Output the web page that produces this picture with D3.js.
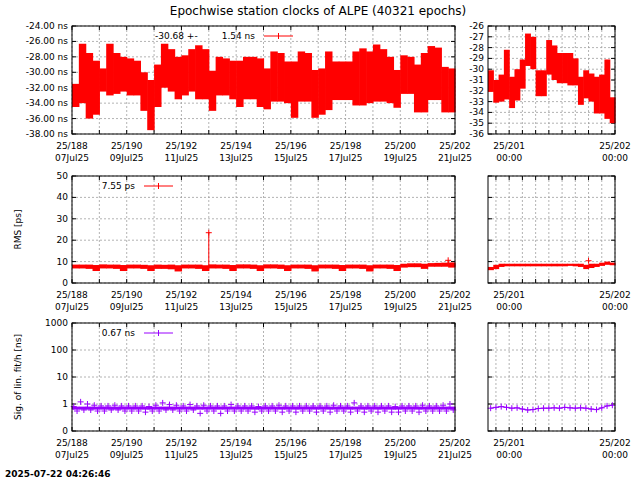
<!DOCTYPE html>
<html><head><meta charset="utf-8">
<script src="https://cdn.jsdelivr.net/npm/d3@7"></script>
<style>body{margin:0;background:#fff}text{font-family:"DejaVu Sans",sans-serif;font-size:9px;fill:#000}</style>
</head><body><svg id="c" width="640" height="480"></svg>
<script>
// ---- data ----
const title = "Epochwise station clocks of ALPE (40321 epochs)";
const stamp = "2025-07-22 04:26:46";
const leftDays = [188,190,192,194,196,198,200,202];
const leftDates = ["07Jul25","09Jul25","11Jul25","13Jul25","15Jul25","17Jul25","19Jul25","21Jul25"];
const rightDays = [201,202];
// clock band, quarter-day bins from day 188.0 (ns)
const clkHi = [-31.5,-26.3,-27.5,-28.5,-29.5,-26.3,-27.5,-28,-28.2,-28.5,-30,-31,-29,-26.3,-27,-28,-27.8,-27,-26.5,-27,-29.8,-28,-28.2,-28.5,-28.5,-28,-28,-28.2,-29.5,-27.3,-27.5,-28.6,-28.6,-27.3,-27.5,-29.7,-29.5,-27.3,-28.6,-28.6,-28.6,-27.3,-26.9,-27.3,-26.4,-27,-28,-29.7,-27.8,-28,-29,-27.5,-26.6,-26.8,-29.3,-29.5];
const clkLo = [-34.5,-34,-36,-35.5,-32.5,-33,-32.8,-32.5,-33,-33,-35,-37.5,-34.5,-32,-32.5,-33.5,-33,-32.5,-33.5,-33.5,-35,-33,-33,-33.5,-34.5,-33.5,-33.5,-34.5,-34.8,-33.8,-33.8,-34,-35.9,-33.8,-33.8,-35.9,-35.5,-34.9,-33.6,-33.6,-33.6,-34.3,-34.3,-34,-33.8,-33.8,-34,-34.6,-32.8,-32.8,-35.2,-35.2,-33.6,-33.6,-35.2,-35.2];
// right panel, 0.05-day bins from day 200.8
const clkHiR = [-30.1,-31,-30.5,-28.2,-30.7,-30,-29.1,-26.7,-27,-30.1,-30.1,-27.3,-27.8,-28.5,-28.5,-28.5,-29,-30.7,-30.1,-30.4,-30.7,-30.5,-29.1,-32.6];
const clkLoR = [-32.1,-33.1,-33,-32.8,-33.6,-32.9,-31.8,-29.7,-30,-32.5,-32.5,-30.5,-31,-31.3,-31.3,-31.5,-31.5,-33.3,-32.7,-33,-34.1,-34.1,-34.6,-35];
// RMS [ps]
const rmsHi = [8.6,8.6,8.6,8.4,8.7,8.6,8.6,8.4,8.6,8.6,8.5,8.3,8.6,8.5,8.6,8.3,8.6,8.6,8.6,8.3,8.7,8.6,8.6,8.4,8.7,8.7,8.6,8.3,8.7,8.7,8.6,8.3,8.6,8.6,8.6,8.3,8.6,8.6,8.6,8.4,8.6,8.6,8.6,8.3,8.6,8.6,8.6,8.4,9.0,9.2,9.2,9.0,9.3,9.4,9.5,9.6];
const rmsLo = [6.8,6.8,6.6,5.6,6.8,6.8,6.6,5.6,6.8,6.8,6.6,5.6,6.6,6.6,6.4,5.4,6.8,6.8,6.6,5.6,6.8,6.8,6.6,5.6,6.8,6.8,6.6,5.6,6.8,6.8,6.6,5.6,6.8,6.8,6.6,5.4,6.8,6.8,6.6,5.6,6.8,6.8,6.6,5.4,6.8,6.8,6.6,5.6,7.2,7.4,7.4,6.6,7.6,7.6,7.6,7.2];
const rmsHiR = [7.5,8.5,9,9,9,9,9,9,9,9,9,9,9,9,9,9,9,9,8.5,9,9,9.5,10,9.5];
const rmsLoR = [6,6.5,7.5,7.8,7.8,7.8,7.8,7.8,7.8,7.8,7.8,7.8,7.8,7.8,7.8,8,7.8,7.5,6.5,7,7.5,8,8.5,8.3];
const rmsSpikes = [[193.0,23.5],[201.75,10.6]];
const rmsSpikesR = [[201.75,10.4]];
// sigma of lin. fit/h [ns]
const sigHi = [0.8,1.2,1.0,0.9,0.85,0.85,0.9,0.85,0.85,0.85,0.85,0.8,0.9,1.1,0.95,0.9,0.85,0.95,0.85,0.9,0.85,0.85,0.85,0.95,0.85,0.85,0.85,0.8,0.85,0.85,0.9,0.85,0.85,0.85,0.85,0.85,0.85,0.85,0.9,0.85,0.85,1.1,0.85,0.85,0.85,0.85,0.85,0.8,0.85,0.85,0.85,0.9,0.85,0.85,0.9,1.0];
const sigLo = [0.55,0.6,0.6,0.55,0.55,0.6,0.6,0.55,0.55,0.55,0.5,0.55,0.55,0.6,0.6,0.55,0.55,0.6,0.45,0.55,0.55,0.45,0.55,0.55,0.55,0.55,0.5,0.55,0.55,0.55,0.5,0.55,0.5,0.55,0.55,0.5,0.55,0.5,0.55,0.55,0.5,0.55,0.5,0.55,0.5,0.55,0.5,0.5,0.55,0.55,0.5,0.55,0.55,0.55,0.55,0.6];
const sigR = [0.7,0.75,0.8,0.75,0.7,0.72,0.65,0.6,0.62,0.68,0.7,0.7,0.72,0.7,0.75,0.72,0.7,0.72,0.7,0.65,0.62,0.72,0.85,0.9];
const legends = [["-30.68 +-","1.54 ns"],["","7.55 ps"],["","0.67 ns"]];

// ---- drawing ----
const svg = d3.select("#c");
const RED = "#ff0000", PUR = "#9900ff";
svg.append("text").attr("x",318).attr("y",15).attr("text-anchor","middle").style("font-size","12px").text(title);
svg.append("text").attr("x",5).attr("y",477).style("font-weight","bold").text(stamp);

const L = [72,455], R = [488,615];
const rows = [[26,134],[176,283],[323,431]];
const xL = d3.scaleLinear().domain([188,202]).range(L);
const xR = d3.scaleLinear().domain([200.8,202]).range(R);

function frame(x, y, yTicks, yFmt, xGrid, xLabels){
  const [x0,x1]=x.range(), [y1,y0]=y.range();
  const g = svg.append("g");
  xGrid.forEach(v=>g.append("line").attr("x1",x(v)).attr("x2",x(v)).attr("y1",y0).attr("y2",y1).attr("stroke","#a0a0a0").attr("stroke-width",0.8).attr("stroke-dasharray","2,2"));
  yTicks.forEach(v=>g.append("line").attr("x1",x0).attr("x2",x1).attr("y1",y(v)).attr("y2",y(v)).attr("stroke","#a0a0a0").attr("stroke-width",0.8).attr("stroke-dasharray","2,2"));
  yTicks.forEach(v=>{
    g.append("line").attr("x1",x0).attr("x2",x0+4).attr("y1",y(v)).attr("y2",y(v)).attr("stroke","#000");
    g.append("line").attr("x1",x1).attr("x2",x1-4).attr("y1",y(v)).attr("y2",y(v)).attr("stroke","#000");
    g.append("text").attr("x",x0-4).attr("y",y(v)+3).attr("text-anchor","end").text(yFmt(v));
  });
  xGrid.forEach(v=>{
    g.append("line").attr("x1",x(v)).attr("x2",x(v)).attr("y1",y1).attr("y2",y1-4).attr("stroke","#000");
    g.append("line").attr("x1",x(v)).attr("x2",x(v)).attr("y1",y0).attr("y2",y0+4).attr("stroke","#000");
  });
  xLabels.forEach(([v,a,b])=>{
    g.append("text").attr("x",x(v)).attr("y",y1+15).attr("text-anchor","middle").text(a);
    g.append("text").attr("x",x(v)).attr("y",y1+27).attr("text-anchor","middle").text(b);
  });
  return g;
}
function border(x,y){
  const [x0,x1]=x.range(), [y1,y0]=y.range();
  svg.append("rect").attr("x",x0).attr("y",y0).attr("width",x1-x0).attr("height",y1-y0).attr("fill","none").attr("stroke","#000");
}
function band(x,y,hi,lo,start,step,col){
  const g=svg.append("g");
  hi.forEach((h,i)=>{
    const xa=x(start+i*step), xb=x(start+(i+1)*step);
    const ya=y(h), yb=y(lo[i]);
    g.append("rect").attr("x",xa).attr("y",Math.min(ya,yb)).attr("width",xb-xa+0.6).attr("height",Math.abs(yb-ya)).attr("fill",col);
  });
}
function plus(x,y,px,py,col){
  svg.append("path").attr("d",`M${x(px)-3},${y(py)}h6M${x(px)},${y(py)-3}v6`).attr("stroke",col).attr("stroke-width",1);
}
function legend(row,txt,col){
  const yy=rows[row][0]+10;
  if(txt[0]) svg.append("text").attr("x",155).attr("y",yy+3).text(txt[0]);
  const lx = row===0?264:144, tx = row===0?255:135;
  svg.append("text").attr("x",tx).attr("y",yy+3).attr("text-anchor","end").text(txt[1]);
  svg.append("line").attr("x1",lx).attr("x2",lx+29).attr("y1",yy).attr("y2",yy).attr("stroke",col);
  svg.append("line").attr("x1",lx+14.5).attr("x2",lx+14.5).attr("y1",yy-3).attr("y2",yy+3).attr("stroke",col);
}
const daysAll = d3.range(188,203);
const lLabels = leftDays.map((d,i)=>[d,"25/"+d,leftDates[i]]);
const rGrid = d3.range(0,10).map(i=>200.875+i*0.125);
const rLabels = rightDays.map(d=>[d,"25/"+d,"00:00"]);

// Row 1
const y1L = d3.scaleLinear().domain([-38,-24]).range([rows[0][1],rows[0][0]]);
const y1R = d3.scaleLinear().domain([-36,-26]).range([rows[0][1],rows[0][0]]);
frame(xL,y1L,d3.range(-38,-23,2),v=>v.toFixed(2)+" ns",daysAll,lLabels);
frame(xR,y1R,d3.range(-36,-25,1),v=>String(v),rGrid,rLabels);
band(xL,y1L,clkHi,clkLo,188,0.25,RED);
band(xR,y1R,clkHiR,clkLoR,200.8,0.05,RED);
border(xL,y1L); border(xR,y1R);
legend(0,legends[0],RED);

// Row 2
const y2L = d3.scaleLinear().domain([0,50]).range([rows[1][1],rows[1][0]]);
const y2R = y2L.copy();
frame(xL,y2L,d3.range(0,51,10),v=>String(v),daysAll,lLabels);
frame(xR,y2R,d3.range(0,51,10),v=>"",rGrid,rLabels);
band(xL,y2L,rmsHi,rmsLo,188,0.25,RED);
band(xR,y2R,rmsHiR,rmsLoR,200.8,0.05,RED);
rmsSpikes.forEach(([t,v])=>{svg.append("line").attr("x1",xL(t)).attr("x2",xL(t)).attr("y1",y2L(8)).attr("y2",y2L(v)).attr("stroke",RED);plus(xL,y2L,t,v,RED);});
rmsSpikesR.forEach(([t,v])=>plus(xR,y2R,t,v,RED));
border(xL,y2L); border(xR,y2R);
legend(1,legends[1],RED);
svg.append("text").attr("transform",`translate(21,${(rows[1][0]+rows[1][1])/2}) rotate(-90)`).attr("text-anchor","middle").text("RMS [ps]");

// Row 3
const y3L = d3.scaleLog().domain([0.1,1000]).range([rows[2][1],rows[2][0]]);
const y3R = y3L.copy();
const lt=[0.1,1,10,100,1000];
frame(xL,y3L,lt,v=>v<1?"0":String(v),daysAll,lLabels);
frame(xR,y3R,lt,v=>"",rGrid,rLabels);
sigHi.forEach((h,i)=>{
  const t=188+i*0.25+0.125;
  svg.append("rect").attr("x",xL(188+i*0.25)).attr("y",y3L(0.8)).attr("width",xL(188.25)-xL(188)+0.6).attr("height",y3L(0.62)-y3L(0.8)).attr("fill",PUR);
  plus(xL,y3L,t-0.06,h,PUR); plus(xL,y3L,t+0.06,sigLo[i],PUR);
});
const sigLine = d3.line().x((d,i)=>xR(200.8+i*0.05+0.025)).y(d=>y3R(d));
svg.append("path").attr("d",sigLine(sigR)).attr("fill","none").attr("stroke",PUR);
sigR.forEach((v,i)=>plus(xR,y3R,200.8+i*0.05+0.025,v,PUR));
border(xL,y3L); border(xR,y3R);
legend(2,legends[2],PUR);
svg.append("text").attr("transform",`translate(21,${(rows[2][0]+rows[2][1])/2}) rotate(-90)`).attr("text-anchor","middle").text("Sig. of lin. fit/h [ns]");
</script></body></html>
